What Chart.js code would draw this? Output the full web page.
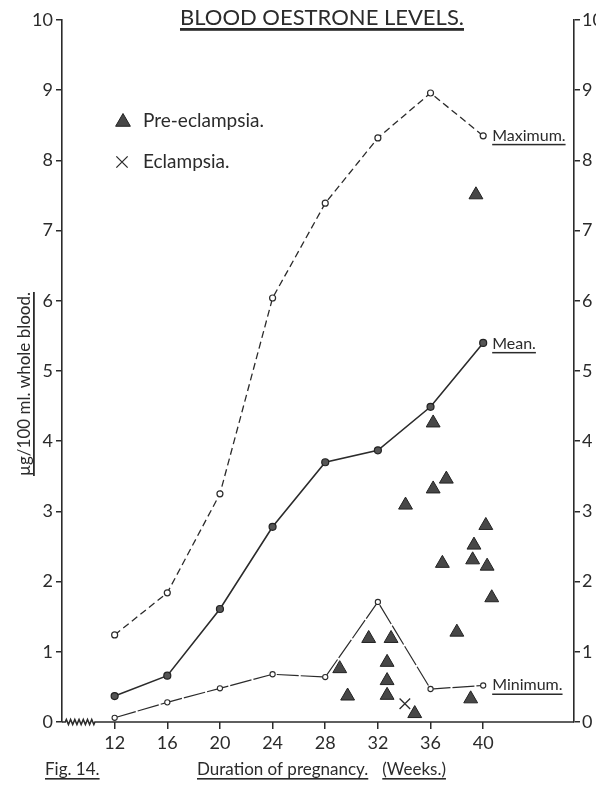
<!DOCTYPE html>
<html>
<head>
<meta charset="utf-8">
<title>Blood oestrone levels</title>
<script src="https://cdn.jsdelivr.net/npm/chart.js@4/dist/chart.umd.min.js"></script>
<style>
  html, body { margin: 0; padding: 0; background: #fff; }
</style>
</head>
<body>
<canvas id="oestrone-chart" width="596" height="786"></canvas>
<script>
// weeks of pregnancy and oestrone levels (µg/100 ml. whole blood)
const weeks = [12, 16, 20, 24, 28, 32, 36, 40];
const maximum = [1.24, 1.84, 3.25, 6.04, 7.39, 8.32, 8.96, 8.35];
const mean = [0.37, 0.66, 1.61, 2.78, 3.70, 3.87, 4.49, 5.40];
const minimum = [0.06, 0.28, 0.48, 0.68, 0.64, 1.71, 0.47, 0.52];

// single cases
const preWeeks = [29.1, 29.7, 31.3, 32.7, 32.7, 32.7, 33.0, 34.1, 34.8, 36.2, 36.2,
                  36.9, 37.2, 38.0, 39.05, 39.2, 39.3, 39.45, 40.2, 40.3, 40.65];
const preValues = [0.76, 0.37, 1.19, 0.85, 0.59, 0.38, 1.19, 3.09, 0.12, 4.26, 3.32,
                   2.26, 3.46, 1.28, 0.33, 2.31, 2.52, 7.51, 2.80, 2.22, 1.77];
const eclWeeks = [34.05];
const eclValues = [0.26];

const weekTicks = [12, 16, 20, 24, 28, 32, 36, 40];

const ink = '#2b2b2b';
const FONT = 'Lato, "DejaVu Sans", sans-serif';

function toPoints(xs, ys) {
    return xs.map((x, i) => ({ x: x, y: ys[i] }));
}

function underlined(ctx, text, x, y, size, thick) {
    ctx.font = size + 'px ' + FONT;
    ctx.textAlign = 'left';
    ctx.textBaseline = 'alphabetic';
    ctx.fillText(text, x, y);
    const w = ctx.measureText(text).width;
    ctx.fillRect(x, y + 3, w, thick || 1.5);
    return w;
}

// titles, legend, end labels and the broken x axis
const decorations = {
    id: 'decorations',
    afterDraw(chart) {
        const { ctx, chartArea, scales } = chart;
        const x = scales.x, y = scales.y;
        ctx.save();
        ctx.strokeStyle = ink;
        ctx.fillStyle = ink;

        // x axis with a zigzag break before week 12
        const base = y.getPixelForValue(0);
        const b0 = x.getPixelForValue(8.25), b1 = x.getPixelForValue(10.5);
        ctx.lineWidth = 1.6;
        ctx.beginPath();
        ctx.moveTo(chartArea.left, base);
        ctx.lineTo(b0, base);
        const teeth = 7, step = (b1 - b0) / teeth;
        for (let i = 0; i < teeth; i++) {
            ctx.lineTo(b0 + step * (i + 0.25), base - 2.5);
            ctx.lineTo(b0 + step * (i + 0.75), base + 2.5);
        }
        ctx.lineTo(b1, base);
        ctx.lineTo(chartArea.right, base);
        ctx.stroke();

        // chart title
        ctx.font = '22px ' + FONT;
        const title = 'BLOOD OESTRONE LEVELS.';
        const tw = ctx.measureText(title).width;
        underlined(ctx, title, 322 - tw / 2, 25, 22, 2.8);

        // y axis title
        ctx.save();
        ctx.translate(30, 384);
        ctx.rotate(-Math.PI / 2);
        ctx.font = '17px ' + FONT;
        const yt = 'µg/100 ml. whole blood.';
        const yw = ctx.measureText(yt).width;
        underlined(ctx, yt, -yw / 2, 0, 17, 1.8);
        ctx.restore();

        // x axis title and figure number
        underlined(ctx, 'Fig. 14.', 45, 775, 17, 1.6);
        const dw = underlined(ctx, 'Duration of pregnancy.', 197, 775, 17, 1.6);
        underlined(ctx, '(Weeks.)', 197 + dw + 14, 775, 17, 1.6);

        // legend for the single cases
        const pre = chart.data.datasets[3], ecl = chart.data.datasets[4];
        ctx.fillStyle = pre.backgroundColor;
        ctx.strokeStyle = pre.borderColor;
        ctx.lineWidth = pre.borderWidth;
        Chart.helpers.drawPoint(ctx, { pointStyle: 'triangle', radius: 8.5, borderWidth: 1 }, 123, 122);
        ctx.strokeStyle = ink;
        ctx.lineWidth = 1.3;
        Chart.helpers.drawPoint(ctx, { pointStyle: 'crossRot', radius: 8, borderWidth: 1.3 }, 122, 162);
        ctx.fillStyle = ink;
        ctx.font = '19px ' + FONT;
        ctx.textAlign = 'left';
        ctx.fillText(pre.label, 143, 127);
        ctx.fillText(ecl.label, 143, 168);

        // labels at the end of each curve
        const ends = [[0, 5], [1, 6], [2, 5]];
        ends.forEach(([i, dy]) => {
            const pts = chart.getDatasetMeta(i).data;
            const last = pts[pts.length - 1];
            underlined(ctx, chart.data.datasets[i].label, last.x + 9, last.y + dy, 16, 1.5);
        });

        ctx.restore();
    }
};

const tickFont = { family: FONT, size: 18 };

const ctx = document.getElementById('oestrone-chart');
new Chart(ctx, {
    type: 'scatter',
    data: {
        datasets: [{
            label: 'Maximum.',
            data: toPoints(weeks, maximum),
            showLine: true,
            borderColor: ink,
            borderWidth: 1.3,
            borderDash: [7, 4],
            pointRadius: 3,
            pointBackgroundColor: '#fff',
            pointBorderColor: ink,
            pointBorderWidth: 1.2
        }, {
            label: 'Mean.',
            data: toPoints(weeks, mean),
            showLine: true,
            borderColor: ink,
            borderWidth: 1.6,
            pointRadius: 3.5,
            pointBackgroundColor: '#555',
            pointBorderColor: '#222',
            pointBorderWidth: 1.2
        }, {
            label: 'Minimum.',
            data: toPoints(weeks, minimum),
            showLine: true,
            borderColor: ink,
            borderWidth: 1.2,
            borderDash: [22, 2],
            pointRadius: 2.6,
            pointBackgroundColor: '#fff',
            pointBorderColor: ink,
            pointBorderWidth: 1.1
        }, {
            label: 'Pre-eclampsia.',
            data: toPoints(preWeeks, preValues),
            pointStyle: 'triangle',
            pointRadius: 8,
            backgroundColor: '#474747',
            borderColor: '#222',
            borderWidth: 1
        }, {
            label: 'Eclampsia.',
            data: toPoints(eclWeeks, eclValues),
            pointStyle: 'crossRot',
            pointRadius: 7.5,
            borderColor: ink,
            borderWidth: 1.3
        }]
    },
    options: {
        responsive: false,
        animation: false,
        layout: { padding: { top: 20, left: 0, right: 0, bottom: 0 } },
        plugins: {
            legend: { display: false },
            tooltip: { enabled: false }
        },
        scales: {
            x: {
                type: 'linear',
                min: 8,
                max: 46.9,
                border: { display: false },
                grid: { drawOnChartArea: false, tickLength: 7, color: ink, lineWidth: 1.5 },
                ticks: { font: tickFont, color: ink, padding: 3, maxRotation: 0, autoSkip: false },
                afterBuildTicks: s => { s.ticks = weekTicks.map(v => ({ value: v })); },
                afterFit: s => { s.height = 64; }
            },
            y: {
                min: 0,
                max: 10,
                position: 'left',
                border: { display: true, color: ink, width: 1.6 },
                grid: { drawOnChartArea: false, tickLength: 6, color: ink, lineWidth: 1.5 },
                ticks: { stepSize: 1, font: tickFont, color: ink, padding: 3 },
                afterFit: s => { s.width = 62; }
            },
            y2: {
                min: 0,
                max: 10,
                position: 'right',
                border: { display: true, color: ink, width: 1.6 },
                grid: { drawOnChartArea: false, tickLength: 6, color: ink, lineWidth: 1.5 },
                ticks: { stepSize: 1, font: tickFont, color: ink, padding: 2 },
                afterFit: s => { s.width = 22; }
            }
        }
    },
    plugins: [decorations]
});
</script>
</body>
</html>
